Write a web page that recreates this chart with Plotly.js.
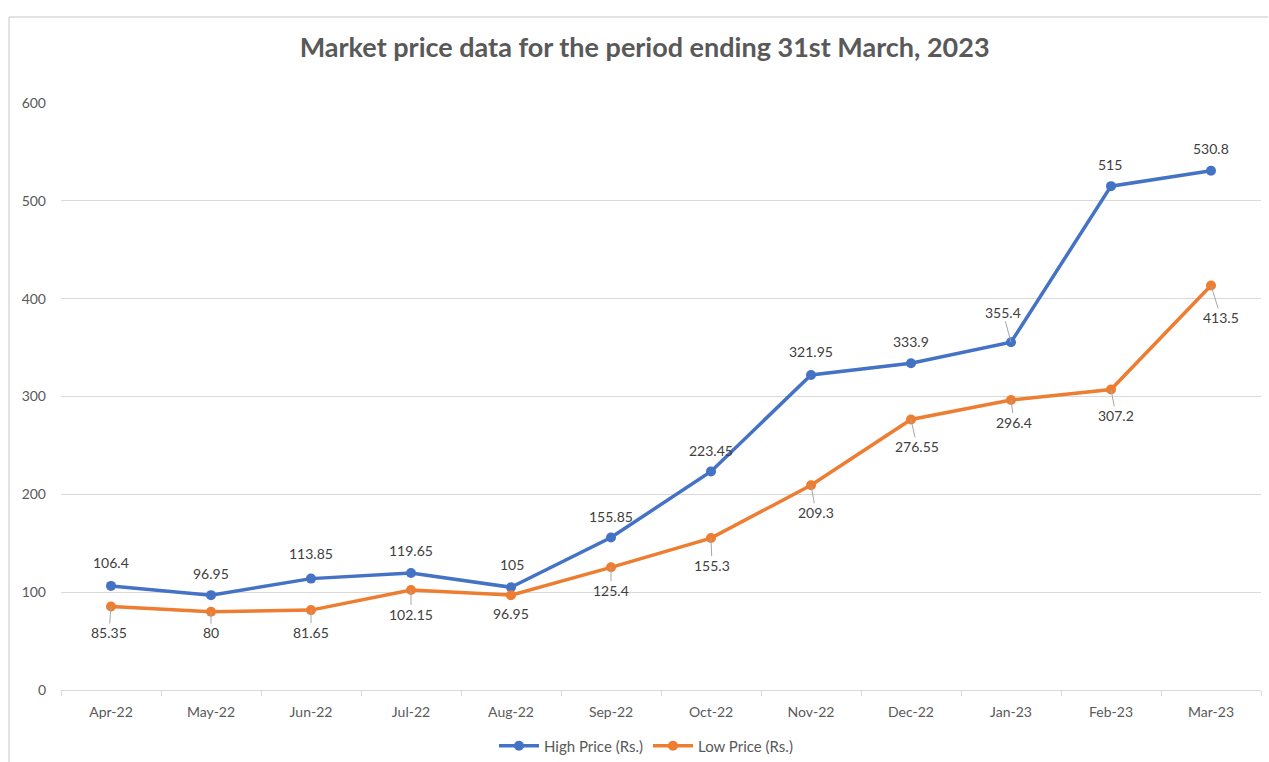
<!DOCTYPE html>
<html>
<head>
<meta charset="utf-8">
<script src="https://cdn.plot.ly/plotly-3.0.1.min.js"></script>
<style>
html,body{margin:0;padding:0;background:#fff;}
#chart{width:1269px;height:762px;}
</style>
</head>
<body>
<div id="chart"></div>
<script>
// ---- data ----
var months = ["Apr-22","May-22","Jun-22","Jul-22","Aug-22","Sep-22","Oct-22","Nov-22","Dec-22","Jan-23","Feb-23","Mar-23"];
var highPrice = [106.4, 96.95, 113.85, 119.65, 105, 155.85, 223.45, 321.95, 333.9, 355.4, 515, 530.8];
var lowPrice = [85.35, 80, 81.65, 102.15, 96.95, 125.4, 155.3, 209.3, 276.55, 296.4, 307.2, 413.5];
var highName = "High Price (Rs.)";
var lowName = "Low Price (Rs.)";
var yTicks = [0, 100, 200, 300, 400, 500, 600];

// ---- label placement (styling only) ----
var highDx = [0,0,0,0,1,0,0,0,0,-8,-1,0];
var highDy = [-23,-22,-25,-22,-23,-21,-21,-24,-22,-30,-22,-22];
var highLeader = [false,false,false,false,false,false,false,false,false,true,false,false];
var lowDx = [-2,0,0,0,0,0,1,5,6,3,5,10];
var lowDy = [26,21,22,24,18,23,27,27,27,22,26,32];
var lowLeader = [true,true,true,true,false,true,true,true,true,true,true,true];

var FONT = "Lato, 'Liberation Sans', sans-serif";
var GRAY = "#595959";
var BLUE = "#4472C4";
var ORANGE = "#ED7D31";

var traces = [
  {x: months, y: highPrice, name: highName, type: "scatter", mode: "lines+markers",
   line: {color: BLUE, width: 3.5}, marker: {color: BLUE, size: 10}},
  {x: months, y: lowPrice, name: lowName, type: "scatter", mode: "lines+markers",
   line: {color: ORANGE, width: 3.5}, marker: {color: ORANGE, size: 10}}
];

var annotations = [];
function addLabels(vals, dx, dy, leader) {
  for (var i = 0; i < vals.length; i++) {
    annotations.push({
      x: months[i], y: vals[i], xref: "x", yref: "y",
      text: String(vals[i]),
      showarrow: true, arrowhead: 0, arrowwidth: 1,
      arrowcolor: leader[i] ? "#a6a6a6" : "rgba(0,0,0,0)",
      ax: dx[i], ay: dy[i], standoff: 0, borderpad: 0,
      font: {family: FONT, size: 14, color: "#404040"}
    });
  }
}
addLabels(highPrice, highDx, highDy, highLeader);
addLabels(lowPrice, lowDx, lowDy, lowLeader);

var layout = {
  width: 1269, height: 762,
  margin: {l: 61, r: 8, t: 103, b: 72, autoexpand: false},
  paper_bgcolor: "#fff", plot_bgcolor: "#fff",
  font: {family: FONT, color: GRAY},
  title: {text: "<b>Market price data for the period ending 31st March, 2023</b>",
          font: {family: FONT, size: 27, color: GRAY},
          x: 0.508, xanchor: "center", y: 0.938, yanchor: "middle"},
  xaxis: {type: "category", range: [-0.5, 11.5], showgrid: false, automargin: false,
          showline: true, linecolor: "#d9d9d9", linewidth: 1,
          ticks: "outside", tickson: "boundaries", ticklen: 5, tickcolor: "#d9d9d9",
          tickfont: {family: FONT, size: 14, color: GRAY}, ticklabelstandoff: 9,
          fixedrange: true},
  yaxis: {range: [0, 600], tickvals: yTicks, showgrid: true, gridcolor: "#d9d9d9", gridwidth: 1,
          zeroline: false, showline: false, ticks: "", automargin: false,
          tickfont: {family: FONT, size: 14, color: GRAY}, ticklabelstandoff: 14,
          fixedrange: true},
  showlegend: true,
  legend: {orientation: "h", x: 0.4875, xanchor: "center", y: -0.0954, yanchor: "middle",
           font: {family: FONT, size: 15, color: GRAY}, itemwidth: 40},
  annotations: annotations,
  shapes: [
    {type: "line", xref: "paper", yref: "paper", x0: -0.0433, x1: 1.0058, y0: 1.1465, y1: 1.1465,
     line: {color: "#d9d9d9", width: 1.5}},
    {type: "line", xref: "paper", yref: "paper", x0: -0.0433, x1: -0.0433, y0: 1.1465, y1: -0.2,
     line: {color: "#d9d9d9", width: 1.5}}
  ]
};

Plotly.newPlot("chart", traces, layout, {displayModeBar: false, staticPlot: true});
</script>
</body>
</html>
